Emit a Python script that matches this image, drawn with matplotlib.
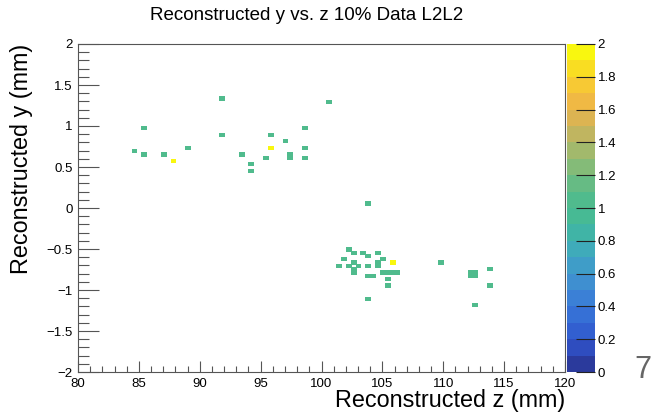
import numpy as np
import matplotlib
matplotlib.use("Agg")
import matplotlib.pyplot as plt
from matplotlib.colors import LinearSegmentedColormap, ListedColormap, Normalize
from matplotlib.ticker import MultipleLocator

plt.rcParams['font.family'] = ['Liberation Sans', 'DejaVu Sans']

# filled bins: (z, y, entries)
z_vals = [84.6, 85.4, 85.4, 87.0, 87.8, 89.0, 91.8, 91.8, 93.4, 94.2, 94.2,
          95.4, 95.8, 95.8, 97.0, 97.4, 97.4, 98.6, 98.6, 98.6, 100.6, 103.8,
          102.2, 102.6, 103.4, 104.6, 103.8, 101.8, 105.0, 102.6, 104.6, 105.8,
          101.4, 102.2, 103.0, 103.8, 104.6, 102.6, 102.6, 103.8, 104.2,
          105.0, 105.4, 105.8, 106.2, 105.4, 105.4, 103.8,
          109.8, 112.2, 112.6, 112.2, 112.6, 113.8, 113.8, 112.6]
y_vals = [0.70, 0.98, 0.66, 0.66, 0.58, 0.74, 1.34, 0.90, 0.66, 0.54, 0.46,
          0.62, 0.90, 0.74, 0.82, 0.66, 0.62, 0.98, 0.74, 0.62, 1.30, 0.06,
          -0.50, -0.54, -0.54, -0.54, -0.58, -0.62, -0.62, -0.66, -0.66, -0.66,
          -0.70, -0.70, -0.70, -0.70, -0.70, -0.74, -0.78, -0.82, -0.82,
          -0.78, -0.78, -0.78, -0.78, -0.86, -0.94, -1.10,
          -0.66, -0.78, -0.78, -0.82, -0.82, -0.74, -0.94, -1.18]
counts = [1, 1, 1, 1, 2, 1, 1, 1, 1, 1, 1,
          1, 1, 2, 1, 1, 1, 1, 1, 1, 1, 1,
          1, 1, 1, 1, 1, 1, 1, 1, 1, 2,
          1, 1, 1, 1, 1, 1, 1, 1, 1,
          1, 1, 1, 1, 1, 1, 1,
          1, 1, 1, 1, 1, 1, 1, 1]

z_edges = np.linspace(80, 120, 101)
y_edges = np.linspace(-2, 2, 101)

# colour bands (0 -> 2, 20 levels)
band_colors = ["#2b3a9c", "#2f4dbf", "#325fd0", "#3670d6", "#3b80d6",
               "#3f8fd0", "#3f9dc8", "#3fabba", "#40b4a6", "#47ba94",
               "#50bb8d", "#66bb84", "#84bb78", "#a2b96c", "#c0b560",
               "#dcb452", "#f0b944", "#f7c934", "#f9dd22", "#f9f70f"]
cmap = ListedColormap(band_colors)


def main():
    H, _, _ = np.histogram2d(z_vals, y_vals, bins=[z_edges, y_edges], weights=counts)
    H = np.ma.masked_equal(H.T, 0)

    fig = plt.figure(figsize=(6.56, 4.15), dpi=100)
    ax = fig.add_axes([78 / 656, 1 - 372 / 415, 487 / 656, 328 / 415])
    cax = fig.add_axes([567 / 656, 1 - 372 / 415, 28 / 656, 328 / 415])

    mesh = ax.pcolormesh(z_edges, y_edges, H, cmap=cmap, norm=Normalize(0, 2),
                         edgecolors='face', linewidth=0.6)
    ax.set_xlim(80, 120)
    ax.set_ylim(-2, 2)
    ax.xaxis.set_major_locator(MultipleLocator(5))
    ax.xaxis.set_minor_locator(MultipleLocator(1))
    ax.yaxis.set_major_locator(MultipleLocator(0.5))
    ax.yaxis.set_minor_locator(MultipleLocator(0.1))
    ax.tick_params(which='both', direction='in', top=False, right=False,
                   labelsize=9.5, color='#555555', width=0.8)
    ax.tick_params(axis='x', which='major', length=8, pad=4)
    ax.tick_params(axis='x', which='minor', length=4)
    ax.tick_params(axis='y', which='major', length=15, pad=4)
    ax.tick_params(axis='y', which='minor', length=8)
    ax.yaxis.set_major_formatter(plt.FuncFormatter(
        lambda v, p: ('%g' % v).replace('-', '\u2212')))
    for sp in ax.spines.values():
        sp.set_color('#555555')
        sp.set_linewidth(0.8)

    cb = fig.colorbar(mesh, cax=cax)
    cb.outline.set_visible(False)
    cb.set_ticks(np.arange(0, 2.01, 0.2))
    cb.ax.set_yticklabels(['%g' % t for t in np.arange(0, 2.01, 0.2).round(1)])
    cb.ax.tick_params(direction='in', length=14, labelsize=9.5, width=0.8,
                      color='#222222', pad=2)

    fig.text(307 / 656, 1 - 16 / 415, "Reconstructed y vs. z 10% Data L2L2",
             ha='center', va='center', fontsize=13.5)
    fig.text(565 / 656, 1 - 400 / 415, "Reconstructed z (mm)",
             ha='right', va='center', fontsize=16.8)
    fig.text(22 / 656, 1 - 44 / 415, "Reconstructed y (mm)",
             ha='center', va='top', rotation=90, fontsize=16.8)
    fig.text(643 / 656, 1 - 370 / 415, "7", ha='center', va='center',
             fontsize=22, color='#666666')

    fig.savefig("out.png", dpi=100)


if __name__ == "__main__":
    main()
